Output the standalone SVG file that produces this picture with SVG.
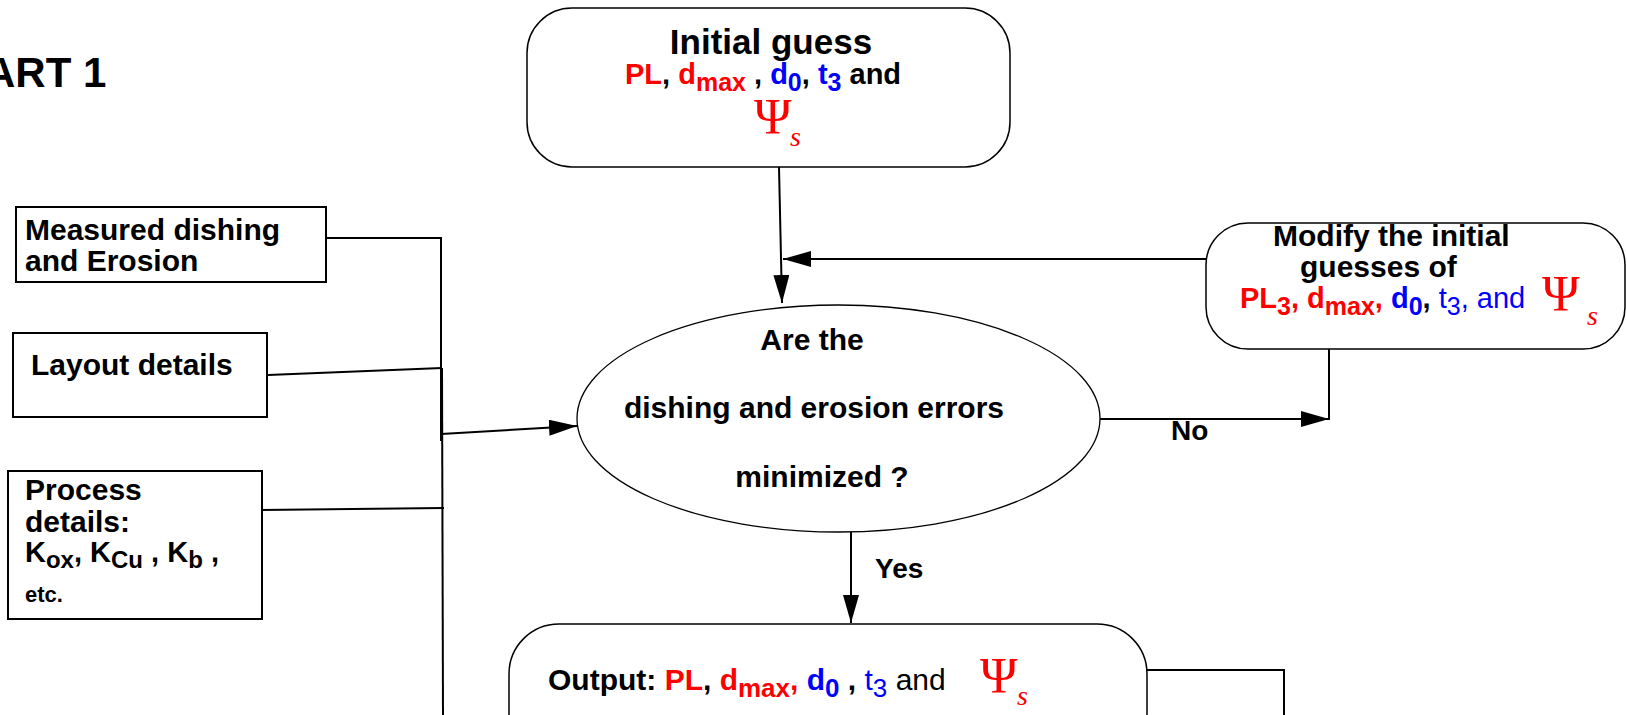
<svg xmlns="http://www.w3.org/2000/svg" width="1627" height="715" viewBox="0 0 1627 715">
<defs>
<marker id="ah" markerUnits="userSpaceOnUse" markerWidth="30" markerHeight="18" refX="28" refY="8" orient="auto">
<path d="M0,0 L28,8 L0,16 z" fill="#000"/>
</marker>
<style>
.b{font-family:"Liberation Sans",Arial,sans-serif;font-weight:bold;fill:#000}
.n{font-family:"Liberation Sans",Arial,sans-serif;font-weight:normal}
.r{fill:#ff0000}
.u{fill:#0000ff}
.k{fill:#000}
.psi{font-family:"Liberation Serif","Times New Roman",serif;fill:#ff0000}
.sub{font-style:italic}
.box{fill:#fff;stroke:#000;stroke-width:2}
.rbox{fill:#fff;stroke:#000;stroke-width:1.5}
.c{fill:none;stroke:#000;stroke-width:2}
</style>
</defs>
<rect width="1627" height="715" fill="#fff"/>
<text class="b" x="-15" y="87" font-size="42">ART 1</text>

<g id="connectors">
<line class="c" x1="779" y1="167" x2="782" y2="303" marker-end="url(#ah)"/>
<line class="c" x1="1216" y1="259" x2="783" y2="259" marker-end="url(#ah)"/>
<line class="c" x1="1100" y1="419" x2="1329" y2="419" marker-end="url(#ah)"/>
<line class="c" x1="1329" y1="349" x2="1329" y2="420"/>
<line class="c" x1="851" y1="532" x2="851" y2="623" marker-end="url(#ah)"/>
<polyline class="c" points="326,238 441,238 441,441"/>
<line class="c" x1="268" y1="375" x2="442" y2="368" stroke-width="1.5"/>
<line class="c" x1="261" y1="510" x2="444" y2="508" stroke-width="1.5"/>
<line class="c" x1="442" y1="368" x2="443" y2="715" stroke-width="1.5"/>
<line class="c" x1="441" y1="434" x2="577" y2="426" stroke-width="1.5" marker-end="url(#ah)"/>
<polyline class="c" points="1147,670 1284,670 1284,715"/>
</g>

<g id="initial">
<rect class="rbox" x="527" y="8" width="483" height="159" rx="45"/>
<text class="b" x="771" y="54" font-size="35" text-anchor="middle">Initial guess</text>
<text class="b" x="625" y="84" font-size="29"><tspan class="r">PL</tspan>, <tspan class="r">d</tspan><tspan class="r" font-size="25" dy="7">max</tspan><tspan dy="-7"> , </tspan><tspan class="u">d</tspan><tspan class="u" font-size="25" dy="7">0</tspan><tspan dy="-7">, </tspan><tspan class="u">t</tspan><tspan class="u" font-size="25" dy="7">3</tspan><tspan dy="-7"> and</tspan></text>
<text class="psi" x="754" y="133" font-size="51">Ψ</text>
<text class="psi sub" x="790" y="146" font-size="28">s</text>
</g>

<g id="modify">
<rect class="rbox" x="1206" y="223" width="419" height="126" rx="42"/>
<text class="b" x="1273" y="246" font-size="30">Modify the initial</text>
<text class="b" x="1300" y="277" font-size="30">guesses of</text>
<text class="b" x="1240" y="308" font-size="29"><tspan class="r">PL</tspan><tspan class="r" font-size="25" dy="7">3</tspan><tspan class="r" dy="-7">, d</tspan><tspan class="r" font-size="25" dy="7">max</tspan><tspan class="r" dy="-7">, </tspan><tspan class="u">d</tspan><tspan class="u" font-size="25" dy="7">0</tspan><tspan dy="-7">, </tspan><tspan class="n u">t</tspan><tspan class="n u" font-size="25" dy="7">3</tspan><tspan class="n u" dy="-7">, and</tspan></text>
<text class="psi" x="1542" y="310" font-size="51">Ψ</text>
<text class="psi sub" x="1587" y="325" font-size="28">s</text>
</g>

<g id="measured">
<rect class="box" x="16" y="207" width="310" height="75"/>
<text class="b" x="25" y="240" font-size="30">Measured dishing</text>
<text class="b" x="25" y="271" font-size="30">and Erosion</text>
</g>

<g id="layout">
<rect class="box" x="13" y="333" width="254" height="84"/>
<text class="b" x="31" y="375" font-size="30">Layout details</text>
</g>

<g id="process">
<rect class="box" x="8" y="471" width="254" height="148"/>
<text class="b" x="25" y="500" font-size="30">Process</text>
<text class="b" x="25" y="532" font-size="30">details:</text>
<text class="b" x="25" y="562" font-size="29">K<tspan font-size="24" dy="6">ox</tspan><tspan dy="-6">, K</tspan><tspan font-size="24" dy="6">Cu</tspan><tspan dy="-6"> , K</tspan><tspan font-size="24" dy="6">b</tspan><tspan dy="-6"> ,</tspan></text>
<text class="b" x="25" y="602" font-size="22">etc.</text>
</g>

<g id="decision">
<ellipse cx="838.5" cy="418.5" rx="261.5" ry="113.5" fill="#fff" stroke="#000" stroke-width="1.3"/>
<text class="b" x="812" y="350" font-size="30" text-anchor="middle">Are the</text>
<text class="b" x="814" y="418" font-size="30" text-anchor="middle">dishing and erosion errors</text>
<text class="b" x="822" y="487" font-size="30" text-anchor="middle">minimized ?</text>
</g>

<g id="labels">
<text class="b" x="1171" y="440" font-size="28">No</text>
<text class="b" x="875" y="578" font-size="28">Yes</text>
</g>

<g id="output">
<rect class="rbox" x="509" y="624" width="638" height="140" rx="50"/>
<text class="b" x="548" y="690" font-size="30">Output: <tspan class="r">PL</tspan>, <tspan class="r">d</tspan><tspan class="r" font-size="26" dy="7">max</tspan><tspan class="r" dy="-7">, </tspan><tspan class="u">d</tspan><tspan class="u" font-size="26" dy="7">0</tspan><tspan dy="-7"> , </tspan><tspan class="n u">t</tspan><tspan class="n u" font-size="26" dy="7">3</tspan><tspan class="n" dy="-7"> and</tspan></text>
<text class="psi" x="980" y="692" font-size="51">Ψ</text>
<text class="psi sub" x="1017" y="705" font-size="28">s</text>
</g>
</svg>
